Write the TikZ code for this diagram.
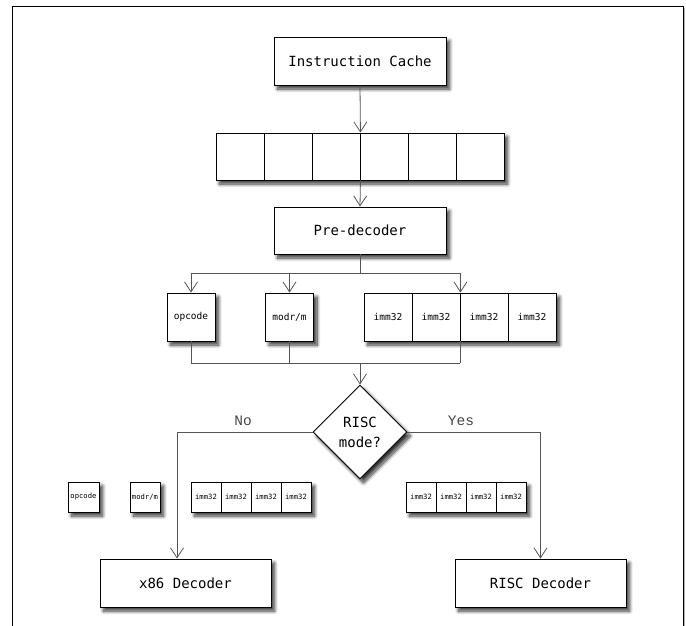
\documentclass[tikz,border=0pt]{standalone}
\usepackage{fontspec}
\setmonofont{DejaVu Sans Mono}
\newfontfamily\courfont{Liberation Mono}
\usetikzlibrary{shapes.geometric,arrows.meta,shadows.blur}
\definecolor{conn}{HTML}{555555}
\definecolor{lbl}{HTML}{444444}
\tikzset{
  shade/.style={blur shadow={shadow xshift=3.5pt,shadow yshift=-4pt,shadow blur steps=10,shadow blur radius=3.5pt,shadow opacity=80}},
  box/.style={draw=black,line width=0.9pt,fill=white,inner sep=0pt,font=\ttfamily\fontsize{14}{16}\selectfont,shade},
  cell/.style={draw=black,line width=0.9pt,fill=white,inner sep=0pt,minimum width=48pt,minimum height=47pt,font=\ttfamily\fontsize{9.5}{11}\selectfont},
  tcell/.style={draw=black,line width=0.9pt,fill=white,inner sep=0pt,minimum width=30pt,minimum height=30pt,font=\ttfamily\fontsize{7.2}{8}\selectfont},
  conline/.style={draw=conn,line width=0.8pt},
  arr/.style={conline,-{Straight Barb[length=10pt,width=13pt]}},
  decision/.style={diamond,draw=black,line width=0.9pt,fill=white,inner sep=0pt,minimum width=94pt,minimum height=94pt,align=center,font=\ttfamily\fontsize{14}{20}\selectfont,shade},
  branchlabel/.style={text=lbl,font=\courfont\fontsize{14.5}{16}\selectfont}
}
\begin{document}
\begin{tikzpicture}[x=1pt,y=-1pt]
\useasboundingbox (0,0) rectangle (686,626);
% frame
\draw[line width=1.6pt,gray!60] (684.5,8) -- (684.5,626);
\draw[line width=0.9pt] (12,626) -- (12,6) -- (683,6) -- (683,626);

% Instruction cache
\node[box,minimum width=172pt,minimum height=48pt] (ic) at (360,61) {Instruction Cache};

% row of six cells
\path[shade,fill=white] (216,133) rectangle (504,180);
\foreach \i/\x in {1/240,2/288,3/336,4/384,5/432,6/480}{
  \node[cell] (r\i) at (\x,156.5) {};
}

% Pre-decoder
\node[box,minimum width=172pt,minimum height=47pt] (pd) at (360,230.5) {Pre-decoder};

% opcode / modr/m / imm32
\node[cell,minimum height=48pt,shade] (op) at (191,317) {opcode};
\node[cell,minimum height=48pt,shade] (mr) at (289.5,317) {modr/m};
\path[shade,fill=white] (364,293) rectangle (556,341);
\foreach \i/\x in {1/388,2/436,3/484,4/532}{
  \node[cell,minimum height=48pt] (i\i) at (\x,317) {imm32};
}

% decision
\node[decision] (dia) at (360,432) {RISC\\mode?};

% small left boxes
\node[tcell,minimum width=31pt,shade] (sop) at (83.5,497) {opcode};
\node[tcell,shade] (smr) at (145,497) {modr/m};
\path[shade,fill=white] (191,482) rectangle (311,512);
\foreach \i/\x in {1/206,2/236,3/266,4/296}{
  \node[tcell] (l\i) at (\x,497) {imm32};
}
% small right boxes
\path[shade,fill=white] (406,482) rectangle (526,512);
\foreach \i/\x in {1/421,2/451,3/481,4/511}{
  \node[tcell] (q\i) at (\x,497) {imm32};
}

% decoders
\node[box,minimum width=171pt,minimum height=48pt] (x86) at (185.5,583) {x86 Decoder};
\node[box,minimum width=171pt,minimum height=48pt] (risc) at (540.5,583) {RISC Decoder};

% connectors
\draw[arr] (ic.south) -- (r3.north east);
\draw[arr] (r3.south east) -- (pd.north);

\coordinate (branch) at (360,273);
\draw[conline] (pd.south) -- (branch);
\draw[conline] (op.north |- branch) -- (i2.north east |- branch);
\draw[arr] (op.north |- branch) -- (op.north);
\draw[arr] (mr.north |- branch) -- (mr.north);
\draw[arr] (i2.north east |- branch) -- (i2.north east);

\coordinate (merge) at (360,363);
\draw[conline] (op.south) -- (op.south |- merge);
\draw[conline] (mr.south) -- (mr.south |- merge);
\draw[conline] (i2.south east) -- (i2.south east |- merge);
\draw[conline] (op.south |- merge) -- (i2.south east |- merge);
\draw[arr] (merge) -- (dia.north);

\coordinate (nocorner) at (177,432);
\draw[arr] (dia.west) -- (nocorner) -- (nocorner |- x86.north);
\draw[arr] (dia.east) -| (risc.north);

\node[branchlabel] (nolbl) at (243,421) {No};
\node[branchlabel] (yeslbl) at (461,421) {Yes};
\end{tikzpicture}
\end{document}
